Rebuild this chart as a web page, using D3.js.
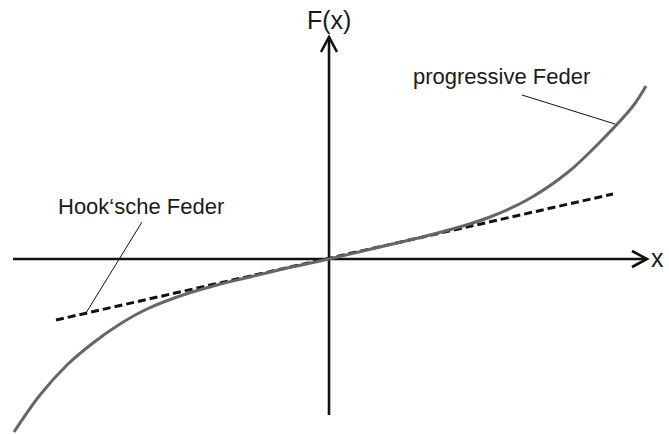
<!DOCTYPE html>
<html>
<head>
<meta charset="utf-8">
<script src="https://cdn.jsdelivr.net/npm/d3@7"></script>
<style>
  body { margin: 0; background: #fff; }
  text { font-family: "Liberation Sans", Arial, sans-serif; fill: #1a1a1a; }
</style>
</head>
<body>
<div id="chart"></div>
<script>
// progressive spring curve (x, F)
const curveX = [-3.15, -2.89, -2.62, -2.36, -2.09, -1.82, -1.46, -1.12, -0.79, -0.46, 0,
                0.34, 0.68, 1.01, 1.34, 1.61, 1.98, 2.38, 2.71, 3.04, 3.17];
const curveF = [-1.73, -1.36, -1.06, -0.84, -0.65, -0.50, -0.36, -0.26, -0.18, -0.10, 0,
                0.08, 0.16, 0.24, 0.33, 0.42, 0.59, 0.86, 1.17, 1.53, 1.73];

// Hooke's law line (linear spring)
const hookeX = [-2.73, 2.84];
const hookeF = [-0.61, 0.65];

// axis extents
const xAxisExtent = [-3.16, 3.18];
const yAxisExtent = [-1.56, 2.22];

const labels = ["F(x)", "x", "Hook‘sche Feder", "progressive Feder"];

function draw() {
  const width = 669, height = 434;

  const svg = d3.select("#chart")
    .append("svg")
    .attr("width", width)
    .attr("height", height);

  const xScale = d3.scaleLinear().domain([-3.29, 3.40]).range([0, width]);
  const yScale = d3.scaleLinear().domain([-1.75, 2.59]).range([height, 0]);

  ///////////////////////////////
  // axes with arrow heads
  const x0 = xScale(0), y0 = yScale(0);
  const xEnd = xScale(xAxisExtent[1]), yEnd = yScale(yAxisExtent[1]);

  svg.append("line")
    .attr("x1", xScale(xAxisExtent[0])).attr("x2", xEnd)
    .attr("y1", y0).attr("y2", y0)
    .attr("stroke", "#111").attr("stroke-width", 2.6);

  svg.append("path")
    .attr("d", `M${xEnd - 15},${y0 - 8} L${xEnd},${y0} L${xEnd - 15},${y0 + 8}`)
    .attr("fill", "none").attr("stroke", "#111").attr("stroke-width", 2.6);

  svg.append("line")
    .attr("x1", x0).attr("x2", x0)
    .attr("y1", yScale(yAxisExtent[0])).attr("y2", yEnd)
    .attr("stroke", "#111").attr("stroke-width", 2.6);

  svg.append("path")
    .attr("d", `M${x0 - 8},${yEnd + 15} L${x0},${yEnd} L${x0 + 8},${yEnd + 15}`)
    .attr("fill", "none").attr("stroke", "#111").attr("stroke-width", 2.6);

  ///////////////////////////////
  // the two springs
  const line = d3.line()
    .x(d => xScale(d[0]))
    .y(d => yScale(d[1]))
    .curve(d3.curveCatmullRom.alpha(0.5));

  svg.append("path")
    .datum(hookeX.map((v, i) => [v, hookeF[i]]))
    .attr("d", line)
    .attr("fill", "none")
    .attr("stroke", "#111")
    .attr("stroke-width", 3)
    .attr("stroke-dasharray", "8,4");

  svg.append("path")
    .datum(curveX.map((v, i) => [v, curveF[i]]))
    .attr("d", line)
    .attr("fill", "none")
    .attr("stroke", "#666")
    .attr("stroke-width", 3);

  ///////////////////////////////
  // leader lines
  svg.append("line")
    .attr("x1", xScale(-1.87)).attr("y1", yScale(0.37))
    .attr("x2", xScale(-2.43)).attr("y2", yScale(-0.54))
    .attr("stroke", "#111").attr("stroke-width", 1);

  svg.append("line")
    .attr("x1", xScale(1.93)).attr("y1", yScale(1.64))
    .attr("x2", xScale(2.86)).attr("y2", yScale(1.35))
    .attr("stroke", "#111").attr("stroke-width", 1);

  ///////////////////////////////
  // labels
  svg.append("text").text(labels[0])
    .attr("x", 307).attr("y", 29)
    .attr("font-size", 25);

  svg.append("text").text(labels[1])
    .attr("x", 651).attr("y", 267)
    .attr("font-size", 25);

  svg.append("text").text(labels[2])
    .attr("x", 58).attr("y", 214)
    .attr("font-size", 22);

  svg.append("text").text(labels[3])
    .attr("x", 413).attr("y", 84)
    .attr("font-size", 22);
}

draw();
</script>
</body>
</html>
